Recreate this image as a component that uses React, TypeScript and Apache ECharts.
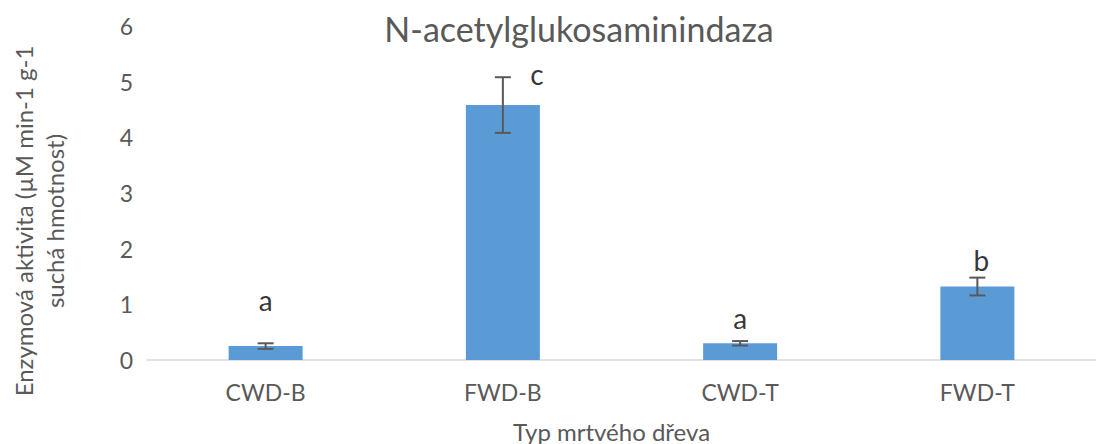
import React, { useEffect, useRef } from "react";
import * as echarts from "echarts";

const categories = ["CWD-B", "FWD-B", "CWD-T", "FWD-T"];
const means = [0.25, 4.58, 0.3, 1.32];
const errors = [0.05, 0.5, 0.04, 0.16];
const letters = ["a", "c", "a", "b"];
const yTicks = [0, 1, 2, 3, 4, 5, 6];

const title = "N-acetylglukosaminindaza";
const xName = "Typ mrtvého dřeva";
const yName = "Enzymová aktivita (µM min-1 g-1\nsuchá hmotnost)";

const FONT = "Lato, 'Open Sans', sans-serif";
const GREY = "#595959";

export default function App() {
  const ref = useRef<HTMLDivElement>(null);
  useEffect(() => {
    if (!ref.current) return;
    const chart = echarts.init(ref.current, undefined, { renderer: "svg" });
    const labelOffsets: [number, number][] = [
      [0, -24],
      [34, 16],
      [0, -4],
      [4, 2],
    ];
    chart.setOption({
      animation: false,
      title: {
        text: title,
        left: 574,
        top: 6,
        textAlign: "center",
        textStyle: { fontFamily: FONT, fontSize: 34, fontWeight: "normal", color: GREY },
      },
      grid: { left: 147, right: 0, top: 26, bottom: 84, containLabel: false, outerBoundsMode: "none" },
      graphic: [
        {
          type: "text",
          x: 39,
          y: 221,
          rotation: Math.PI / 2,
          style: {
            text: yName,
            fontFamily: FONT,
            fontSize: 24,
            lineHeight: 31,
            fill: GREY,
            align: "center",
            verticalAlign: "middle",
          },
        },
      ],
      xAxis: {
        type: "category",
        data: categories,
        name: xName,
        nameLocation: "middle",
        nameGap: 59,
        nameTextStyle: { fontFamily: FONT, fontSize: 24, color: GREY, padding: [0, 20, 0, 0] },
        axisLine: { lineStyle: { color: "#d9d9d9", width: 1.5 } },
        axisTick: { show: false },
        axisLabel: { fontFamily: FONT, fontSize: 23, color: GREY, margin: 20 },
      },
      yAxis: {
        type: "value",
        min: yTicks[0],
        max: yTicks[yTicks.length - 1],
        interval: 1,
        axisLine: { show: false },
        axisTick: { show: false },
        splitLine: { show: false },
        axisLabel: { fontFamily: FONT, fontSize: 23, color: GREY, margin: 14 },
      },
      series: [
        {
          type: "bar",
          data: means,
          barWidth: 74,
          itemStyle: { color: "#5b9bd5" },
          z: 2,
        },
        {
          type: "custom",
          z: 5,
          data: means.map((m, i) => [i, m - errors[i], m + errors[i]]),
          renderItem: (params: any, api: any) => {
            const x = api.value(0);
            const lo = api.coord([x, api.value(1)]);
            const hi = api.coord([x, api.value(2)]);
            const w = 8;
            const style = { stroke: "#595959", lineWidth: 2 };
            return {
              type: "group",
              children: [
                { type: "line", shape: { x1: lo[0], y1: lo[1], x2: hi[0], y2: hi[1] }, style },
                { type: "line", shape: { x1: lo[0] - w, y1: lo[1], x2: lo[0] + w, y2: lo[1] }, style },
                { type: "line", shape: { x1: hi[0] - w, y1: hi[1], x2: hi[0] + w, y2: hi[1] }, style },
              ],
            };
          },
        },
        {
          type: "scatter",
          symbol: "circle",
          symbolSize: 1,
          itemStyle: { color: "rgba(0,0,0,0)" },
          z: 6,
          data: means.map((m, i) => ({
            value: [i, m + errors[i]],
            label: {
              show: true,
              formatter: letters[i],
              position: "top",
              distance: 5,
              offset: labelOffsets[i],
              fontFamily: FONT,
              fontSize: 28,
              color: "#000",
            },
          })),
        },
      ],
    });
    return () => chart.dispose();
  }, []);
  return (
    <div
      ref={ref}
      style={{ position: "fixed", left: 0, top: 0, width: 1096, height: 444, background: "#fff" }}
    />
  );
}
